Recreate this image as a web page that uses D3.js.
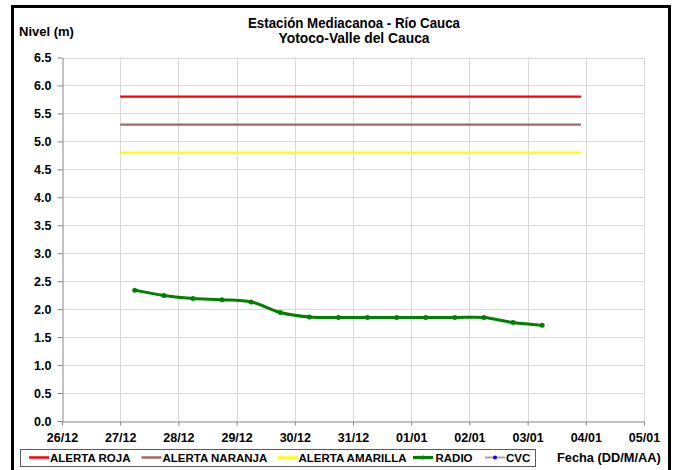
<!DOCTYPE html>
<html>
<head>
<meta charset="utf-8">
<script src="https://cdn.jsdelivr.net/npm/d3@7"></script>
<style>
  html, body { margin: 0; padding: 0; background: #fff; }
  svg { display: block; }
  text { font-family: "Liberation Sans", Arial, sans-serif; font-weight: bold; fill: #000; }
</style>
</head>
<body>
<svg id="chart" width="684" height="470"></svg>
<script>
// ---- Data ----
const titleLines = ["Estación Mediacanoa - Río Cauca", "Yotoco-Valle del Cauca"];
const yTitle = "Nivel (m)";
const xTitle = "Fecha (DD/M/AA)";
const xTickLabels = ["26/12","27/12","28/12","29/12","30/12","31/12","01/01","02/01","03/01","04/01","05/01"];
const yTickValues = [0.0,0.5,1.0,1.5,2.0,2.5,3.0,3.5,4.0,4.5,5.0,5.5,6.0,6.5];

const alertPeriod = ["2011-12-27 00:00", "2012-01-03 22:00"];
const alertRoja = 5.8;
const alertNaranja = 5.3;
const alertAmarilla = 4.8;

const radioTimes = [
  "2011-12-27 06:00","2011-12-27 18:00","2011-12-28 06:00","2011-12-28 18:00",
  "2011-12-29 06:00","2011-12-29 18:00","2011-12-30 06:00","2011-12-30 18:00",
  "2011-12-31 06:00","2011-12-31 18:00","2012-01-01 06:00","2012-01-01 18:00",
  "2012-01-02 06:00","2012-01-02 18:00","2012-01-03 06:00"
];
const radioValues = [2.34,2.245,2.19,2.17,2.13,1.94,1.86,1.85,1.85,1.85,1.85,1.85,1.85,1.76,1.71];

const legendLabels = ["ALERTA ROJA","ALERTA NARANJA","ALERTA AMARILLA","RADIO","CVC"];

// ---- Setup ----
const parse = d3.timeParse("%Y-%m-%d %H:%M");
const svg = d3.select("#chart");
const W = 684, H = 470;
const pLeft = 62, pRight = 644, pTop = 57.5, pBottom = 421;

svg.append("rect").attr("x",0).attr("y",0).attr("width",W).attr("height",H).attr("fill","#fff");

const x = d3.scaleTime()
  .domain([parse("2011-12-26 00:00"), parse("2012-01-05 00:00")])
  .range([pLeft, pRight]);
const y = d3.scaleLinear().domain([0, 6.5]).range([pBottom, pTop]);

const dayTicks = d3.timeDay.range(parse("2011-12-26 00:00"), parse("2012-01-05 01:00"));

// grid
const grid = svg.append("g");
grid.selectAll("line.h").data(yTickValues.filter(v => v > 0)).join("line")
  .attr("x1", pLeft).attr("x2", pRight)
  .attr("y1", d => Math.round(y(d)) + 0.5).attr("y2", d => Math.round(y(d)) + 0.5)
  .attr("stroke", "#d9d9d9").attr("stroke-width", 1);
grid.selectAll("line.v").data(dayTicks.slice(1)).join("line")
  .attr("x1", d => Math.round(x(d)) + 0.5).attr("x2", d => Math.round(x(d)) + 0.5)
  .attr("y1", pTop).attr("y2", pBottom)
  .attr("stroke", "#d9d9d9").attr("stroke-width", 1);

// axes
const yAxis = d3.axisLeft(y).tickValues(yTickValues).tickFormat(d3.format(".1f")).tickSize(5).tickPadding(6).tickSizeOuter(0);
const yg = svg.append("g").attr("transform", `translate(${pLeft + 0.5},0)`).call(yAxis);
yg.select(".domain").attr("stroke", "#868686");
yg.selectAll(".tick line").attr("stroke", "#868686");
yg.selectAll(".tick text").attr("font-size", "12.5px").attr("font-family", "Liberation Sans, Arial, sans-serif").attr("font-weight","bold").attr("fill","#000");

const xAxis = d3.axisBottom(x).tickValues(dayTicks).tickFormat((d, i) => xTickLabels[i]).tickSize(4).tickPadding(8).tickSizeOuter(0);
const xg = svg.append("g").attr("transform", `translate(0,${pBottom + 0.5})`).call(xAxis);
xg.select(".domain").attr("stroke", "#868686");
xg.selectAll(".tick line").attr("stroke", "#868686");
xg.selectAll(".tick text").attr("font-size", "12.5px").attr("font-family", "Liberation Sans, Arial, sans-serif").attr("font-weight","bold").attr("fill","#000");

// alert lines
const alerts = [
  { v: alertRoja, color: "#ff0000" },
  { v: alertNaranja, color: "#9e6a6a" },
  { v: alertAmarilla, color: "#ffff00" }
];
svg.selectAll("line.alert").data(alerts).join("line")
  .attr("x1", x(parse(alertPeriod[0]))).attr("x2", x(parse(alertPeriod[1])))
  .attr("y1", d => y(d.v)).attr("y2", d => y(d.v))
  .attr("stroke", d => d.color).attr("stroke-width", 2.2);

// radio series
const radio = radioTimes.map((t, i) => ({ t: parse(t), v: radioValues[i] }));
const line = d3.line().x(d => x(d.t)).y(d => y(d.v)).curve(d3.curveCardinal.tension(0));
svg.append("path").datum(radio).attr("d", line)
  .attr("fill", "none").attr("stroke", "#008000").attr("stroke-width", 3).attr("stroke-linejoin","round");
svg.selectAll("circle.radio").data(radio).join("circle")
  .attr("cx", d => x(d.t)).attr("cy", d => y(d.v)).attr("r", 2.5).attr("fill", "#008000");

// titles
const tl = svg.append("g");
tl.append("text").attr("x", 354).attr("y", 28).attr("text-anchor","middle").attr("font-size","14px")
  .attr("textLength", 212).attr("lengthAdjust","spacingAndGlyphs").text(titleLines[0]);
tl.append("text").attr("x", 354).attr("y", 42.5).attr("text-anchor","middle").attr("font-size","14px")
  .attr("textLength", 151).attr("lengthAdjust","spacingAndGlyphs").text(titleLines[1]);
svg.append("text").attr("x", 19).attr("y", 35.5).attr("font-size","13px").text(yTitle);
svg.append("text").attr("x", 557).attr("y", 462).attr("font-size","12.8px").text(xTitle);

// legend
const lg = svg.append("g");
lg.append("rect").attr("x", 20.5).attr("y", 449.5).attr("width", 515).attr("height", 17)
  .attr("fill", "#fff").attr("stroke", "#5a5a5a").attr("stroke-width", 1);
const legendItems = [
  { label: legendLabels[0], color: "#ff0000", lx: 29, tx: 50, w: 2.5 },
  { label: legendLabels[1], color: "#9e6a6a", lx: 141.5, tx: 162.5, w: 2.5 },
  { label: legendLabels[2], color: "#ffff00", lx: 277.5, tx: 298.5, w: 2.5 },
  { label: legendLabels[3], color: "#008000", lx: 413, tx: 435.5, w: 3.2, marker: "#008000" },
  { label: legendLabels[4], color: "#a6a6a6", lx: 485, tx: 506, w: 2, marker: "#0000ff" }
];
legendItems.forEach(it => {
  lg.append("line").attr("x1", it.lx).attr("x2", it.lx + 20).attr("y1", 457.5).attr("y2", 457.5)
    .attr("stroke", it.color).attr("stroke-width", it.w);
  if (it.marker) {
    lg.append("circle").attr("cx", it.lx + 10).attr("cy", 457.5).attr("r", 2).attr("fill", it.marker);
  }
  lg.append("text").attr("x", it.tx).attr("y", 462).attr("font-size", "11.5px").text(it.label);
});

// outer frame
svg.append("rect").attr("x", 12.5).attr("y", 6.5).attr("width", 657).attr("height", 480)
  .attr("fill", "none").attr("stroke", "#000").attr("stroke-width", 3);
</script>
</body>
</html>
